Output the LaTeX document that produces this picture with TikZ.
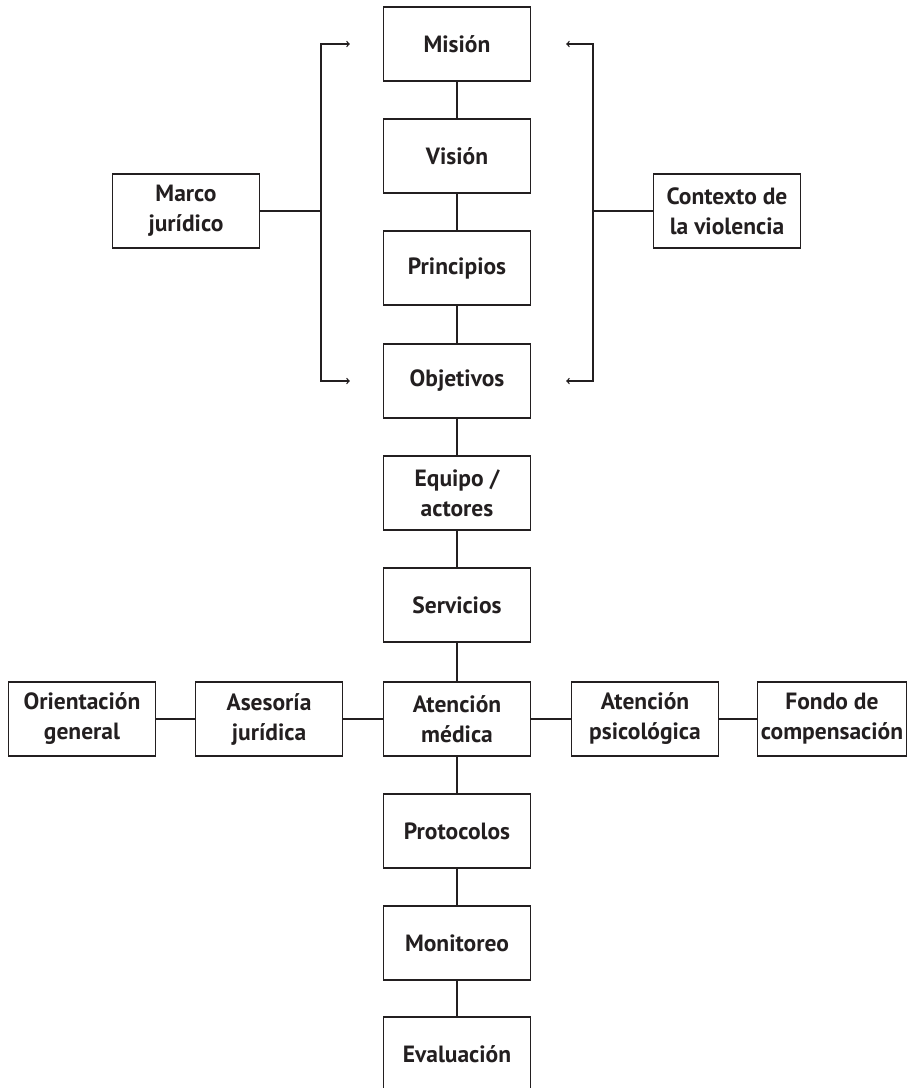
\documentclass[tikz,border=0pt]{standalone}
\usepackage{fontspec}
\setmainfont{PT Sans}
\definecolor{ink}{RGB}{35,31,32}
\begin{document}
\begin{tikzpicture}[x=1pt,y=-1pt]
	\useasboundingbox (0,0) rectangle (909,1088);
	\begin{scope} [every node/.style={draw=ink, text=ink, line width=1.3pt, minimum width=147pt, minimum height=74pt, align=center, font=\fontsize{23.5}{30}\selectfont\bfseries}]
		\node (mis) at (457,44){Misión};
		\node (vis) at (457,156){Visión};
		\node (pri) at (457,268){Principios};
		\node (obj) at (457,381){Objetivos};
		\node (equ) at (457,493){Equipo /\\actores};
		\node (ser) at (457,605){Servicios};
		\node (med) at (457,719){Atención\\médica};
		\node (pro) at (457,831){Protocolos};
		\node (mon) at (457,943){Monitoreo};
		\node (eva) at (457,1054){Evaluación};
		\node (mar) at (186,211){Marco\\jurídico};
		\node (con) at (727,211){Contexto de\\la violencia};
		\node (ori) at (82,719){Orientación\\general};
		\node (ase) at (269,719){Asesoría\\jurídica};
		\node (psi) at (645,719){Atención\\psicológica};
		\node (fon) at (832,719){Fondo de\\compensación};
	\end{scope}
	\coordinate (ml) at (321,211);
	\coordinate (cr) at (593,211);
	\draw[ink, line width=1.3pt] (mis) -- (vis) -- (pri) -- (obj) -- (equ) -- (ser) -- (med) -- (pro) -- (mon) -- (eva);
	\draw[ink, line width=1.3pt] (ori) -- (ase) -- (med) -- (psi) -- (fon);
	\draw[ink, line width=1.3pt] (mar) -- (ml);
	\draw[ink, line width=1.3pt] (con) -- (cr);
	\draw[ink, line width=1.3pt, ->] (ml) |- ([xshift=-33pt]mis.west);
	\draw[ink, line width=1.3pt, ->] (ml) |- ([xshift=-33pt]obj.west);
	\draw[ink, line width=1.3pt, ->] (cr) |- ([xshift=35pt]mis.east);
	\draw[ink, line width=1.3pt, ->] (cr) |- ([xshift=35pt]obj.east);
\end{tikzpicture}
\end{document}
